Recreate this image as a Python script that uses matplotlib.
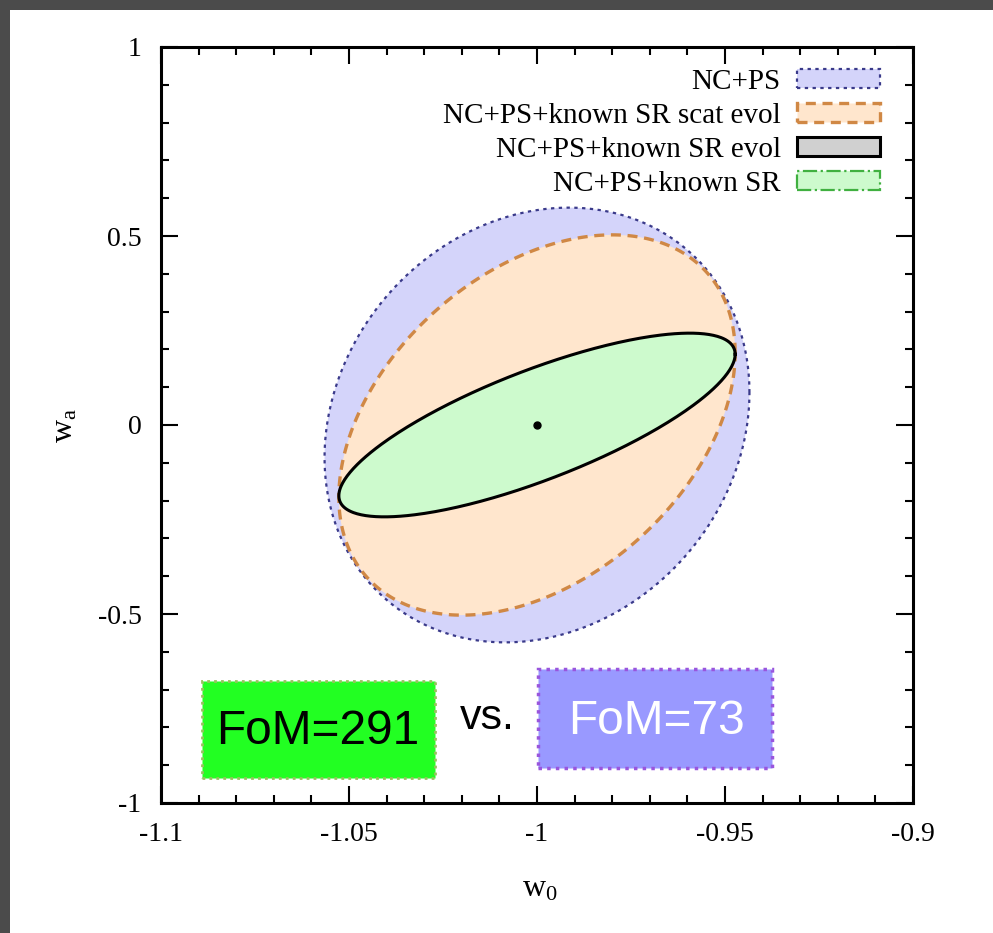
import numpy as np
import matplotlib
matplotlib.use("Agg")
import matplotlib.pyplot as plt
from matplotlib.patches import Patch, Rectangle

plt.rcParams['font.family'] = ['Liberation Serif', 'DejaVu Serif']
plt.rcParams['mathtext.fontset'] = 'custom'
plt.rcParams['mathtext.rm'] = 'Liberation Serif'
plt.rcParams['mathtext.it'] = 'Liberation Serif'

# forecast ellipses: centre, half width in w0, half height in wa, correlation
labels = ['NC+PS', 'NC+PS+known SR scat evol', 'NC+PS+known SR evol', 'NC+PS+known SR']
w0_fid = -1.0
wa_fid = 0.0
half_w0 = [0.0565, 0.0527, 0.0527, 0.0527]
half_wa = [0.575, 0.503, 0.243, 0.243]
corr = [0.15, 0.38, 0.77, 0.77]

fills = ['#d4d4fa', '#ffe6cd', '#d0d0d0', '#cdfacd']
edges = ['#3a3a8a', '#d08845', '#000000', '#40b040']
styles = [(0, (1.5, 2)), (0, (3, 2)), '-', '-.']
widths = [1.6, 2.4, 2.2, 1.6]

fom_good = 291
fom_base = 73

W, H = 993, 933
fig = plt.figure(figsize=(W / 100, H / 100), dpi=100)
ax = fig.add_axes([161 / W, (H - 803) / H, 752 / W, 756 / H])

t = np.linspace(0, 2 * np.pi, 400)
for i in range(4):
    x = w0_fid + half_w0[i] * np.cos(t)
    y = wa_fid + half_wa[i] * (corr[i] * np.cos(t) + np.sqrt(1 - corr[i] ** 2) * np.sin(t))
    if i == 2:
        continue
    if i == 3:
        # known SR region, outlined by the evol contour which coincides with it
        ax.fill(x, y, facecolor=fills[i], edgecolor='none', zorder=3)
        ax.plot(x, y, color='black', lw=2.2, zorder=4)
    else:
        ax.fill(x, y, facecolor=fills[i], edgecolor=edges[i], linestyle=styles[i],
                linewidth=widths[i], zorder=2 + i * 0.1)

ax.plot([w0_fid], [wa_fid], 'o', color='black', ms=5, zorder=5)

ax.set_xlim(-1.1, -0.9)
ax.set_ylim(-1, 1)
ax.set_xticks([-1.1, -1.05, -1, -0.95, -0.9])
ax.set_xticklabels(['-1.1', '-1.05', '-1', '-0.95', '-0.9'])
ax.set_yticks([-1, -0.5, 0, 0.5, 1])
ax.set_yticklabels(['-1', '-0.5', '0', '0.5', '1'])
ax.set_xticks(np.arange(-1.1, -0.899, 0.01), minor=True)
ax.set_yticks(np.arange(-1, 1.001, 0.1), minor=True)
ax.tick_params(which='both', direction='in', top=True, right=True, labelsize=20, pad=14)
ax.tick_params(which='major', length=12, width=1.5)
ax.tick_params(which='minor', length=6, width=1.5)
for s in ax.spines.values():
    s.set_linewidth(2.2)

ax.set_xlabel(r'$\mathrm{w}_0$', fontsize=23)
ax.set_ylabel(r'$\mathrm{w}_\mathrm{a}$', fontsize=23)
ax.xaxis.set_label_coords(0.504, -0.095)
ax.yaxis.set_label_coords(-0.108, 0.5)

handles = [Patch(facecolor=fills[i], edgecolor=edges[i], linestyle=styles[i],
                 linewidth=widths[i]) for i in range(4)]
ax.legend(handles, labels, loc='upper right', bbox_to_anchor=(0.956, 0.971),
          frameon=False, markerfirst=False, fontsize=21, handlelength=2.85,
          handleheight=0.62, handletextpad=0.55, labelspacing=0.27,
          borderpad=0, borderaxespad=0)

# FoM boxes
fig.patches.append(Rectangle((202 / W, (H - 778) / H), 233 / W, 97 / H, transform=fig.transFigure,
                             facecolor='#22ff22', edgecolor='#9bc060', linestyle=(0, (1, 1.5)),
                             linewidth=2, zorder=10))
fig.patches.append(Rectangle((538 / W, (H - 768) / H), 234 / W, 99 / H, transform=fig.transFigure,
                             facecolor='#9999ff', edgecolor='#9955dd', linestyle=(0, (1, 1.5)),
                             linewidth=2.5, zorder=10))
fig.text(318 / W, (H - 732) / H, 'FoM=%d' % fom_good, fontsize=34.5, family='Liberation Sans',
         color='black', ha='center', va='center', zorder=11)
fig.text(487 / W, (H - 718) / H, 'vs.', fontsize=31, family='Liberation Sans',
         color='black', ha='center', va='center', zorder=11)
fig.text(657 / W, (H - 721) / H, 'FoM=%d' % fom_base, fontsize=34.5, family='Liberation Sans',
         color='white', ha='center', va='center', zorder=11)

# screenshot frame
fig.patches.append(Rectangle((0, (H - 10) / H), 1, 10 / H, transform=fig.transFigure,
                             facecolor='#4b4b4b', edgecolor='none'))
fig.patches.append(Rectangle((0, 0), 10 / W, 1, transform=fig.transFigure,
                             facecolor='#4b4b4b', edgecolor='none'))

fig.savefig('out.png', dpi=100)
